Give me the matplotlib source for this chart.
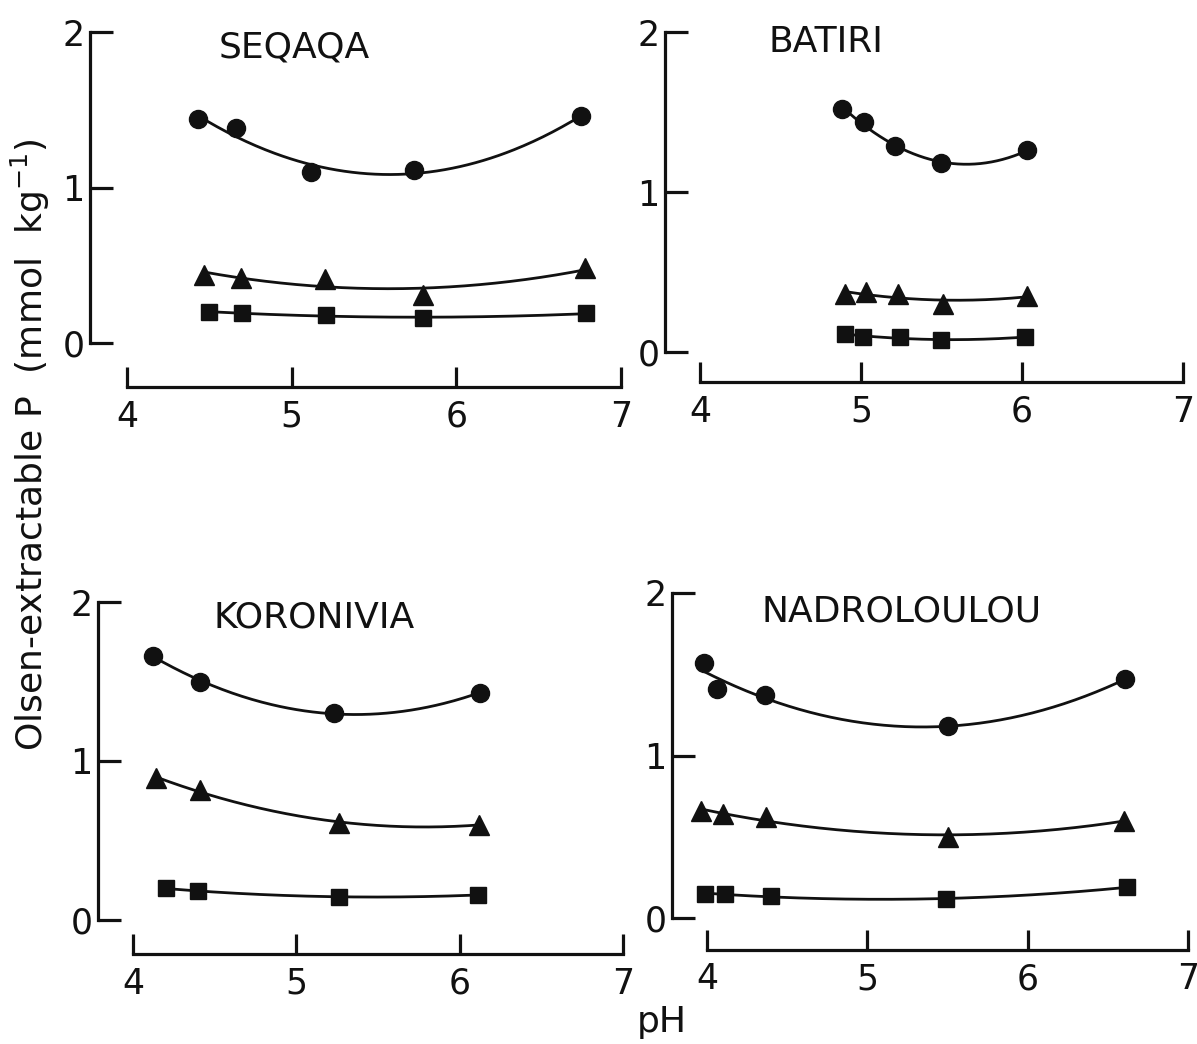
import numpy as np
import matplotlib
matplotlib.use("Agg")
import matplotlib.pyplot as plt

plt.rcParams['font.family'] = ['DejaVu Sans']

# ---------------- data (pH, Olsen-extractable P in mmol/kg) ----------------
# SEQAQA
seq_ph_circ = [4.43, 4.66, 5.12, 5.74, 6.76]
seq_circ = [1.44, 1.38, 1.10, 1.11, 1.46]
seq_ph_tri = [4.47, 4.69, 5.20, 5.80, 6.78]
seq_tri = [0.44, 0.42, 0.41, 0.31, 0.48]
seq_ph_sq = [4.50, 4.70, 5.21, 5.80, 6.79]
seq_sq = [0.20, 0.19, 0.18, 0.16, 0.19]

# BATIRI
bat_ph_circ = [4.88, 5.02, 5.21, 5.50, 6.03]
bat_circ = [1.52, 1.44, 1.29, 1.18, 1.26]
bat_ph_tri = [4.90, 5.03, 5.23, 5.51, 6.03]
bat_tri = [0.36, 0.375, 0.36, 0.30, 0.35]
bat_ph_sq = [4.90, 5.01, 5.24, 5.50, 6.02]
bat_sq = [0.115, 0.094, 0.094, 0.073, 0.094]

# KORONIVIA
kor_ph_circ = [4.125, 4.41, 5.23, 6.125]
kor_circ = [1.66, 1.50, 1.30, 1.43]
kor_ph_tri = [4.14, 4.41, 5.26, 6.12]
kor_tri = [0.89, 0.82, 0.61, 0.60]
kor_ph_sq = [4.20, 4.40, 5.26, 6.11]
kor_sq = [0.20, 0.18, 0.147, 0.157]

# NADROLOULOU
nad_ph_circ = [3.98, 4.06, 4.36, 5.50, 6.61]
nad_circ = [1.57, 1.41, 1.37, 1.18, 1.47]
nad_ph_tri = [3.96, 4.10, 4.37, 5.50, 6.60]
nad_tri = [0.66, 0.64, 0.62, 0.50, 0.60]
nad_ph_sq = [3.99, 4.11, 4.40, 5.49, 6.62]
nad_sq = [0.147, 0.147, 0.137, 0.116, 0.19]

site_names = ['SEQAQA', 'BATIRI', 'KORONIVIA', 'NADROLOULOU']
x_ticks = [4, 5, 6, 7]
y_ticks = [0, 1, 2]
y_label = 'Olsen-extractable P  (mmol  kg$^{-1}$)'
x_label = 'pH'

W, H = 1197, 1044
fig = plt.figure(figsize=(W / 100, H / 100), dpi=100)
fig.patch.set_facecolor('white')


def px_rect(x0, x1, y0, y1):
    # x0,x1: pixel x of data x=4 and x=7 ; y0,y1: pixel y of data y=0 and y=2
    return [x0 / W, 1 - y0 / H, (x1 - x0) / W, (y0 - y1) / H]


layout = [
    # rect, left spine offset (pt), bottom spine offset (pt), title pos (px)
    (px_rect(127, 621, 343, 32), 26.6, 31.7, (294, 47)),
    (px_rect(700, 1183, 352, 32), 25.2, 21.6, (826, 42)),
    (px_rect(133, 623, 920, 602), 25.2, 24.5, (314, 617)),
    (px_rect(707, 1188, 918, 593), 25.2, 23.0, (902, 611)),
]

data = [
    [(seq_ph_circ, seq_circ), (seq_ph_tri, seq_tri), (seq_ph_sq, seq_sq)],
    [(bat_ph_circ, bat_circ), (bat_ph_tri, bat_tri), (bat_ph_sq, bat_sq)],
    [(kor_ph_circ, kor_circ), (kor_ph_tri, kor_tri), (kor_ph_sq, kor_sq)],
    [(nad_ph_circ, nad_circ), (nad_ph_tri, nad_tri), (nad_ph_sq, nad_sq)],
]
markers = [('o', 13), ('^', 14.5), ('s', 12)]

for (rect, lout, bout, tpos), series, name in zip(layout, data, site_names):
    ax = fig.add_axes(rect)
    ax.set_facecolor('none')
    ax.set_xlim(4, 7)
    ax.set_ylim(0, 2)
    for s in ['top', 'right']:
        ax.spines[s].set_visible(False)
    ax.spines['left'].set_position(('outward', lout))
    ax.spines['bottom'].set_position(('outward', bout))
    ax.spines['left'].set_bounds(0, 2)
    ax.spines['bottom'].set_bounds(4, 7)
    for s in ['left', 'bottom']:
        ax.spines[s].set_linewidth(2.3)
        ax.spines[s].set_color('#111111')
    ax.set_xticks(x_ticks)
    ax.set_yticks(y_ticks)
    ax.set_xticklabels([str(t) for t in x_ticks])
    ax.set_yticklabels([str(t) for t in y_ticks])
    ax.tick_params(axis='x', direction='in', length=14.5, width=2.3,
                   pad=9, labelsize=25, color='#111111', labelcolor='#111111')
    ax.tick_params(axis='y', direction='in', length=16.5, width=2.3,
                   pad=4, labelsize=25, color='#111111', labelcolor='#111111')

    for (xs, ys), (mk, ms) in zip(series, markers):
        xs = np.asarray(xs, dtype=float)
        ys = np.asarray(ys, dtype=float)
        coef = np.polyfit(xs, ys, 2)
        xf = np.linspace(xs.min(), xs.max(), 200)
        ax.plot(xf, np.polyval(coef, xf), color='#111111', lw=2.0,
                clip_on=False, zorder=2)
        ax.plot(xs, ys, linestyle='none', marker=mk, markersize=ms,
                color='#111111', clip_on=False, zorder=3)

    fig.text(tpos[0] / W, 1 - tpos[1] / H, name, ha='center', va='center',
             fontsize=26, color='#111111')

fig.text(30 / W, 1 - 445 / H, y_label, rotation=90, ha='center',
         va='center', fontsize=26, color='#111111')
fig.text(662 / W, 1 - 1022 / H, x_label, ha='center', va='center',
         fontsize=26, color='#111111')

fig.savefig('out.png', dpi=100, facecolor='white')
